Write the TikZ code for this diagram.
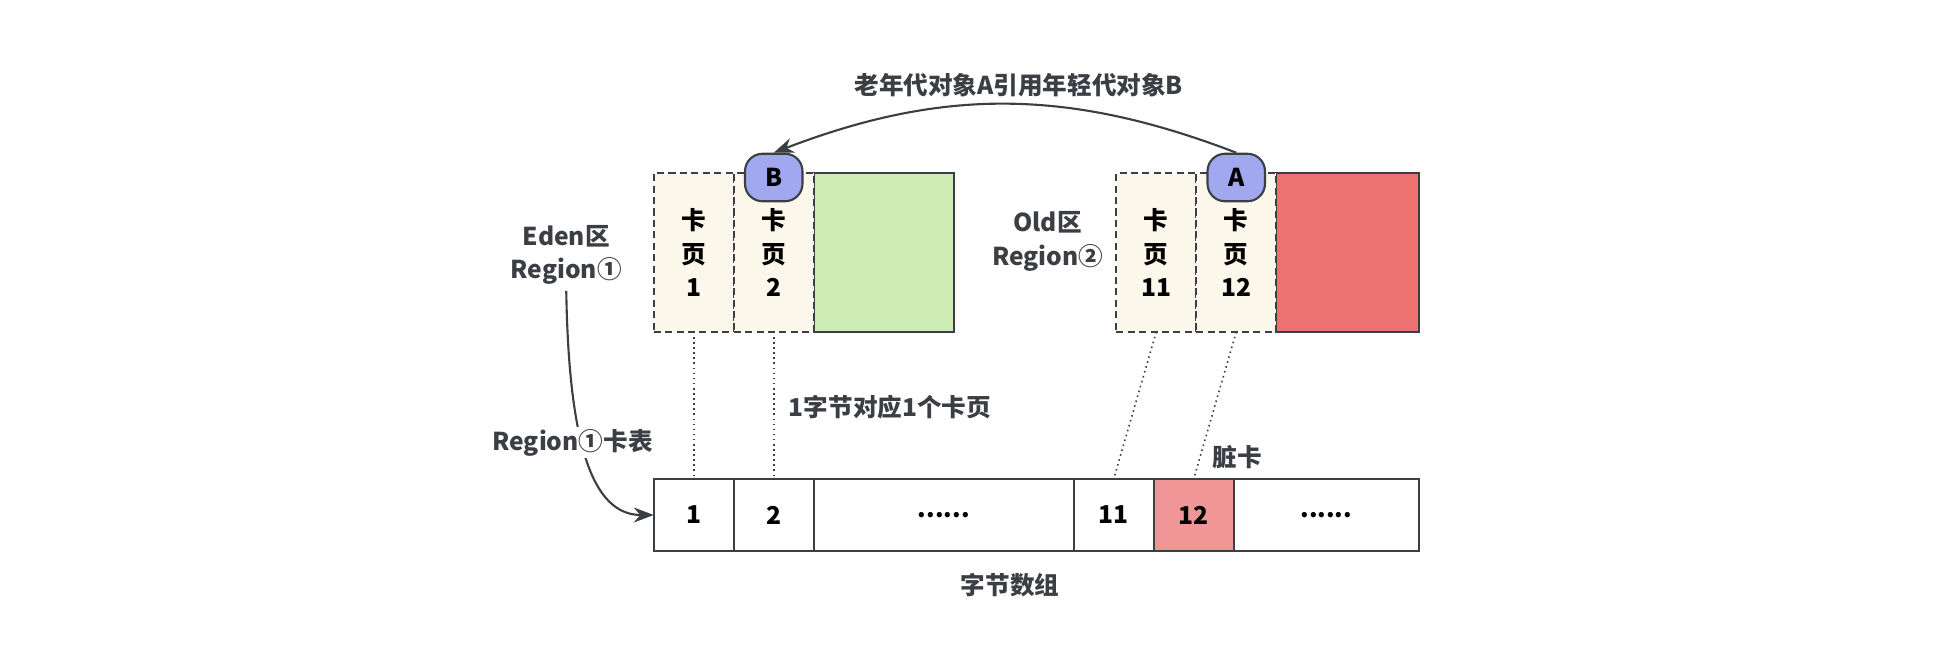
\documentclass[tikz,border=0pt]{standalone}
\usepackage{fontspec}
\setmainfont{Noto Sans CJK SC}
\usetikzlibrary{positioning}
\usetikzlibrary{arrows.meta}

\definecolor{linegray}{HTML}{3B3F44}
\definecolor{cream}{HTML}{FBF8EB}
\definecolor{edengreen}{HTML}{CCEBB5}
\definecolor{oldred}{HTML}{EE7171}
\definecolor{dirtypink}{HTML}{F19696}
\definecolor{objblue}{HTML}{A2A8F0}

\tikzset{
  cardpage/.style={draw=linegray, line width=1.2pt, dash pattern=on 4pt off 2.5pt,
                   fill=cream, outer sep=0pt,
                   minimum width=16mm, minimum height=31.75mm, align=center},
  zone/.style={draw=linegray, line width=1.2pt, outer sep=0pt, minimum height=31.75mm},
  objnode/.style={draw=linegray, line width=1.2pt, fill=objblue, rounded corners=3.5mm,
                  minimum width=11.5mm, minimum height=9.5mm},
  cell/.style={draw=linegray, line width=1.2pt, outer sep=0pt,
               minimum width=16mm, minimum height=14.5mm}
}

\begin{document}
\begin{tikzpicture}[x=0.25mm, y=0.25mm, font=\fontsize{14}{19}\selectfont\bfseries]
\useasboundingbox (0,0) rectangle (1568,-526);

% Eden region with its card pages
\node[zone, fill=edengreen, minimum width=28mm] (eden) at (707,-202) {};
\node[cardpage] (p1) at (555,-202) {卡\\页\\1};
\node[cardpage, right=0pt of p1] (p2) {卡\\页\\2};

% Old region with its card pages
\node[zone, fill=oldred, minimum width=28.5mm] (old) at (1078,-202) {};
\node[cardpage] (p11) at (925,-202) {卡\\页\\11};
\node[cardpage, right=0pt of p11] (p12) {卡\\页\\12};

\node[objnode] (B) at (619,-142) {B};
\node[objnode] (A) at (989,-142) {A};

% card table
\node[cell] (c1) at (555,-412) {1};
\node[cell, right=0pt of c1] (c2) {2};
\node[cell, right=0pt of c2, minimum width=52mm] (c3) {......};
\node[cell, right=0pt of c3] (c11) {11};
\node[cell, fill=dirtypink, right=0pt of c11] (c12) {12};
\node[cell, right=0pt of c12, minimum width=37mm] (c13) {......};

\begin{scope}[every node/.style={align=center, text=linegray}]
  \node (title) at (815,-68) {老年代对象A引用年轻代对象B};
  \node (edenlab) at (453,-204) {Eden区\\Region①};
  \node (oldlab) at (838,-193) {Old区\\Region②};
  \node (bytelab) at (712,-326) {1字节对应1个卡页};
  \node (dirty) at (990,-366) {脏卡};
  \node (arrlab) at (808,-468) {字节数组};
\end{scope}

\begin{scope}[>={Stealth[length=4mm, width=3mm]}, line width=1.2pt, draw=linegray]
  \draw[->] (A.north) to[bend right=21] (B.north);
  \draw[->] (edenlab.south) .. controls +(2,-120) and +(-50,0) .. (c1.west);
\end{scope}
\node[fill=white, text=linegray, inner sep=1pt] (tablab) at (458,-354) {Region①卡表};

\begin{scope}[draw=linegray, line width=0.9pt, dotted]
  \draw (p1) -- (c1);
  \draw (p2) -- (c2);
  \draw (p11.south) -- (c11.north);
  \draw (p12.south) -- (c12.north);
\end{scope}
\end{tikzpicture}
\end{document}
